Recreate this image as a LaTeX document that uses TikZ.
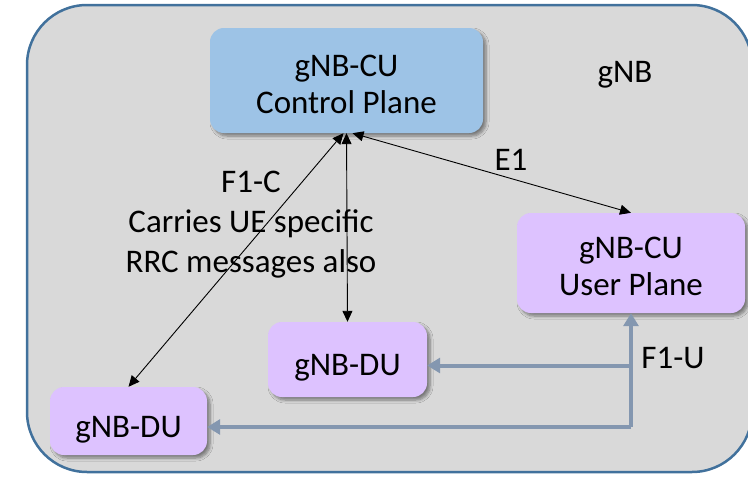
\documentclass[tikz,border=0pt]{standalone}
\usepackage{fontspec}
\setmainfont{Carlito}
\usetikzlibrary{arrows.meta,shadows.blur}

\definecolor{gnbfill}{HTML}{D9D9D9}
\definecolor{gnbedge}{HTML}{41719C}
\definecolor{cpfill}{HTML}{9DC3E6}
\definecolor{dufill}{HTML}{DDC2FF}
\definecolor{fuline}{HTML}{8497B0}

% pushes two-line unit text a little down
\newcommand{\unitpad}{\rule{0pt}{29pt}}

\tikzset{
    unit/.style={rounded corners=14pt, inner sep=0pt,
        blur shadow={shadow xshift=3pt, shadow yshift=-3pt,
            shadow blur steps=6, shadow blur radius=3pt, shadow opacity=45}},
    cpunit/.style={unit, fill=cpfill},
    duunit/.style={unit, fill=dufill},
    % text sits a little below the middle of each unit
    oneline/.style={text height=32pt, text depth=0pt},
    twoline/.style={align=center},
    ctrl/.style={{Triangle[length=11pt,width=10pt]}-{Triangle[length=11pt,width=10pt]}, line width=0.9pt},
    userline/.style={fuline, line width=4pt},
    usertip/.style={-{Triangle[length=13pt,width=15pt]}}
}

\begin{document}
\begin{tikzpicture}[x=1pt, y=-1pt, font=\fontsize{33}{37}\selectfont]
    \useasboundingbox (0,0) rectangle (748,477);
    % gNB frame
    \draw[gnbedge, fill=gnbfill, line width=2.5pt, rounded corners=60pt] (27,5) rectangle (752,472);
    \node (gnb) at (625,75) {gNB};

    % CU and DU units
    \node[cpunit, twoline, minimum width=273pt, minimum height=105pt] (cp) at (346.5,80.5) {\unitpad gNB-CU\\Control Plane};
    \node[duunit, twoline, minimum width=228pt, minimum height=100pt] (up) at (631,263) {\unitpad gNB-CU\\User Plane};
    \node[duunit, oneline, minimum width=159pt, minimum height=75pt] (du1) at (347.5,359.5) {gNB-DU};
    \node[duunit, oneline, minimum width=157pt, minimum height=68pt] (du2) at (128.5,421) {gNB-DU};

    % control plane links
    \draw[ctrl] ([xshift=-3pt]cp.south) -- (du2.north);
    \draw[ctrl] (cp.south) -- (du1.north);
    \draw[ctrl] ([xshift=6pt]cp.south) -- (up.north);
    \node (e1) at (511,160) {E1};
    \node[align=center, font=\fontsize{33}{40}\selectfont] (f1c) at (251,225)
        {F1-C\\Carries UE specific\\RRC messages also};

    % user plane links
    \coordinate (du1in) at ([yshift=-6pt]du1.east);
    \coordinate (du2in) at ([yshift=-6pt]du2.east);
    \draw[userline, usertip] (du2in -| up.south) -- (up.south);
    \draw[userline, usertip] (du2in -| up.south) -- (du2in);
    \draw[userline, usertip] (du1in -| up.south) -- (du1in);
    \node (f1u) at (673,358) {F1-U};
\end{tikzpicture}
\end{document}
